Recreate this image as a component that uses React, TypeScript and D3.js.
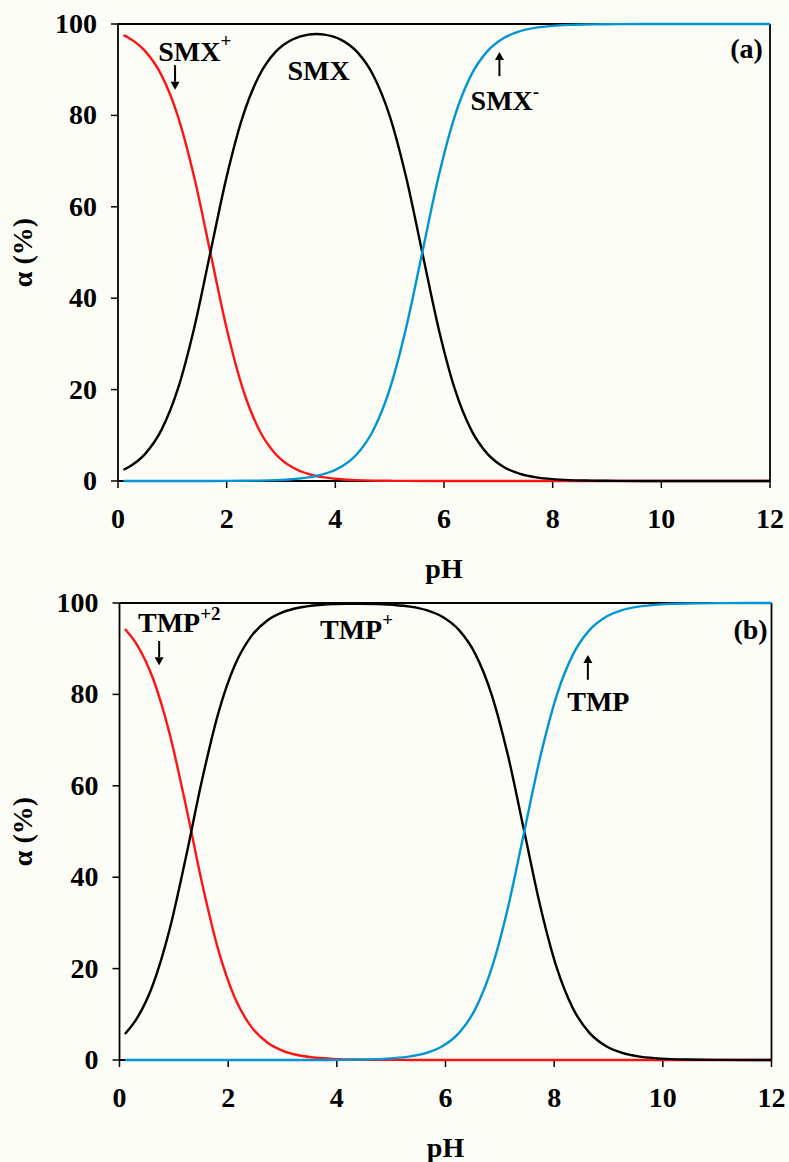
import React from "react";
import * as d3 from "d3";

// speciation of sulfamethoxazole (a) and trimethoprim (b), % vs pH
const smxPH = [0.1, 0.2, 0.5, 0.8, 1.1, 1.4, 1.7, 2.0, 2.3, 2.6, 2.9, 3.2, 3.5, 3.65, 3.8, 4.1, 4.4, 4.7, 5.0, 5.3, 5.6, 5.9, 6.2, 6.5, 6.8, 7.1, 7.4, 7.7, 8.0, 8.3, 8.6, 8.9, 9.2, 10, 11, 12];
const smxCation = [97.55, 96.93, 94.06, 88.82, 79.92, 66.61, 50.0, 33.38, 20.07, 11.17, 5.92, 3.05, 1.55, 1.1, 0.78, 0.38, 0.19, 0.09, 0.04, 0.02, 0.01, 0, 0, 0, 0, 0, 0, 0, 0, 0, 0, 0, 0, 0, 0, 0];
const smxNeutral = [2.45, 3.07, 5.94, 11.18, 20.08, 33.39, 50.0, 66.6, 79.89, 88.74, 93.89, 96.55, 97.68, 97.81, 97.67, 96.57, 93.89, 88.74, 79.9, 66.61, 50.0, 33.39, 20.08, 11.18, 5.94, 3.07, 1.56, 0.79, 0.4, 0.2, 0.1, 0.05, 0.03, 0, 0, 0];
const smxAnion = [0, 0, 0, 0, 0, 0, 0.01, 0.02, 0.04, 0.09, 0.19, 0.38, 0.78, 1.1, 1.55, 3.05, 5.92, 11.17, 20.07, 33.38, 50.0, 66.61, 79.92, 88.82, 94.06, 96.93, 98.44, 99.21, 99.6, 99.8, 99.9, 99.95, 99.97, 100, 100, 100];

const tmpPH = [0.1, 0.32, 0.62, 0.92, 1.22, 1.52, 1.82, 2.12, 2.42, 2.72, 3.02, 3.32, 3.62, 3.92, 4.22, 4.45, 4.75, 5.05, 5.35, 5.65, 5.95, 6.25, 6.55, 6.85, 7.15, 7.45, 7.75, 8.05, 8.35, 8.65, 8.95, 9.25, 9.55, 9.85, 10.15, 10.45, 11, 12];
const tmpDication = [94.32, 90.91, 83.37, 71.53, 55.73, 38.69, 24.03, 13.68, 7.36, 3.83, 1.96, 0.99, 0.5, 0.25, 0.13, 0.07, 0.04, 0.02, 0, 0, 0, 0, 0, 0, 0, 0, 0, 0, 0, 0, 0, 0, 0, 0, 0, 0, 0, 0];
const tmpCation = [5.68, 9.09, 16.63, 28.47, 44.27, 61.31, 75.97, 86.32, 92.64, 96.17, 98.04, 99.01, 99.5, 99.75, 99.81, 99.83, 99.76, 99.58, 99.21, 98.44, 96.93, 94.06, 88.82, 79.92, 66.61, 50.0, 33.39, 20.08, 11.18, 5.94, 3.07, 1.56, 0.79, 0.4, 0.2, 0.1, 0.03, 0];
const tmpNeutral = [0, 0, 0, 0, 0, 0, 0, 0, 0, 0, 0, 0, 0, 0, 0.06, 0.1, 0.2, 0.4, 0.79, 1.56, 3.07, 5.94, 11.18, 20.08, 33.39, 50.0, 66.61, 79.92, 88.82, 94.06, 96.93, 98.44, 99.21, 99.6, 99.8, 99.9, 99.97, 100];

const xTicks = [0, 2, 4, 6, 8, 10, 12];
const yTicks = [0, 20, 40, 60, 80, 100];

const RED = "#ff1414";
const BLUE = "#0096d6";
const FONT = "'Liberation Serif', 'Times New Roman', serif";

function Arrow({ x, yFrom, yTo }) {
  // yTo is the tip
  const dir = yTo > yFrom ? 1 : -1;
  const head = 8;
  return (
    <g>
      <line x1={x} x2={x} y1={yFrom} y2={yTo - dir * head} stroke="#000" strokeWidth={2} />
      <path d={`M${x - 4.5},${yTo - dir * head} L${x + 4.5},${yTo - dir * head} L${x},${yTo} Z`} fill="#000" />
    </g>
  );
}

function Panel({ left, right, top, bottom, ph, series, tag, notes }) {
  const x = d3.scaleLinear().domain([0, 12]).range([left, right]);
  const y = d3.scaleLinear().domain([0, 100]).range([bottom, top]);
  const line = d3
    .line()
    .x((d) => x(d[0]))
    .y((d) => y(d[1]))
    .curve(d3.curveMonotoneX);

  return (
    <g fontFamily={FONT} fontWeight="bold">
      <line x1={left} x2={right} y1={top} y2={top} stroke="#000" strokeWidth={1.8} />
      <line x1={right} x2={right} y1={top} y2={bottom} stroke="#000" strokeWidth={1.8} />
      <line x1={left} x2={right} y1={bottom} y2={bottom} stroke="#000" strokeWidth={1.8} />
      <line x1={left} x2={left} y1={top} y2={bottom} stroke="#000" strokeWidth={1.8} />
      {xTicks.map((t) => (
        <g key={"x" + t}>
          <line x1={x(t)} x2={x(t)} y1={bottom} y2={bottom + 7} stroke="#000" strokeWidth={1.5} />
          <text x={x(t)} y={bottom + 47} textAnchor="middle" fontSize={28}>
            {t}
          </text>
        </g>
      ))}
      {yTicks.map((t) => (
        <g key={"y" + t}>
          <line x1={left - 7} x2={left} y1={y(t)} y2={y(t)} stroke="#000" strokeWidth={1.5} />
          <text x={left - 21} y={y(t) + 9} textAnchor="end" fontSize={28}>
            {t}
          </text>
        </g>
      ))}
      {series.map((s, i) => (
        <path
          key={i}
          d={line(ph.map((p, j) => [p, s.values[j]]))}
          fill="none"
          stroke={s.color}
          strokeWidth={2.4}
        />
      ))}
      <text x={(left + right) / 2} y={bottom + 97} textAnchor="middle" fontSize={28}>
        pH
      </text>
      <text
        transform={`translate(32,${(top + bottom) / 2}) rotate(-90)`}
        textAnchor="middle"
        fontSize={28}
      >
        α (%)
      </text>
      <text x={x(tag.ph)} y={y(tag.v)} textAnchor="end" fontSize={28}>
        {tag.text}
      </text>
      {notes.map((n, i) => (
        <g key={"n" + i}>
          <text x={x(n.ph)} y={y(n.v)} fontSize={28}>
            {n.text}
            <tspan dy={n.dy} fontSize={19}>
              {n.sup}
            </tspan>
          </text>
          {n.arrow && <Arrow x={x(n.arrow[0])} yFrom={y(n.arrow[1])} yTo={y(n.arrow[2])} />}
        </g>
      ))}
    </g>
  );
}

export default function App() {
  return (
    <svg
      width={789}
      height={1162}
      style={{ position: "absolute", left: 0, top: 0, background: "#fdfdf8" }}
    >
      <rect width={789} height={1162} fill="#fdfdf8" />
      <Panel
        left={118}
        right={770}
        top={24}
        bottom={481}
        ph={smxPH}
        series={[
          { values: smxCation, color: RED },
          { values: smxNeutral, color: "#000" },
          { values: smxAnion, color: BLUE },
        ]}
        tag={{ text: "(a)", ph: 11.87, v: 92.6 }}
        notes={[
          { text: "SMX", sup: "+", dy: -14, ph: 0.74, v: 91.9, arrow: [1.05, 91.0, 85.6] },
          { text: "SMX", sup: "", dy: 0, ph: 3.12, v: 87.7 },
          { text: "SMX", sup: "-", dy: -12, ph: 6.49, v: 81.2, arrow: [7.02, 88.6, 93.9] },
        ]}
      />
      <Panel
        left={119.5}
        right={771.5}
        top={603}
        bottom={1060}
        ph={tmpPH}
        series={[
          { values: tmpDication, color: RED },
          { values: tmpCation, color: "#000" },
          { values: tmpNeutral, color: BLUE },
        ]}
        tag={{ text: "(b)", ph: 11.93, v: 92.1 }}
        notes={[
          { text: "TMP", sup: "+2", dy: -12, ph: 0.34, v: 93.7, arrow: [0.73, 91.7, 86.4] },
          { text: "TMP", sup: "+", dy: -13, ph: 3.69, v: 92.1 },
          { text: "TMP", sup: "", dy: 0, ph: 8.24, v: 76.4, arrow: [8.62, 83.2, 88.6] },
        ]}
      />
    </svg>
  );
}
